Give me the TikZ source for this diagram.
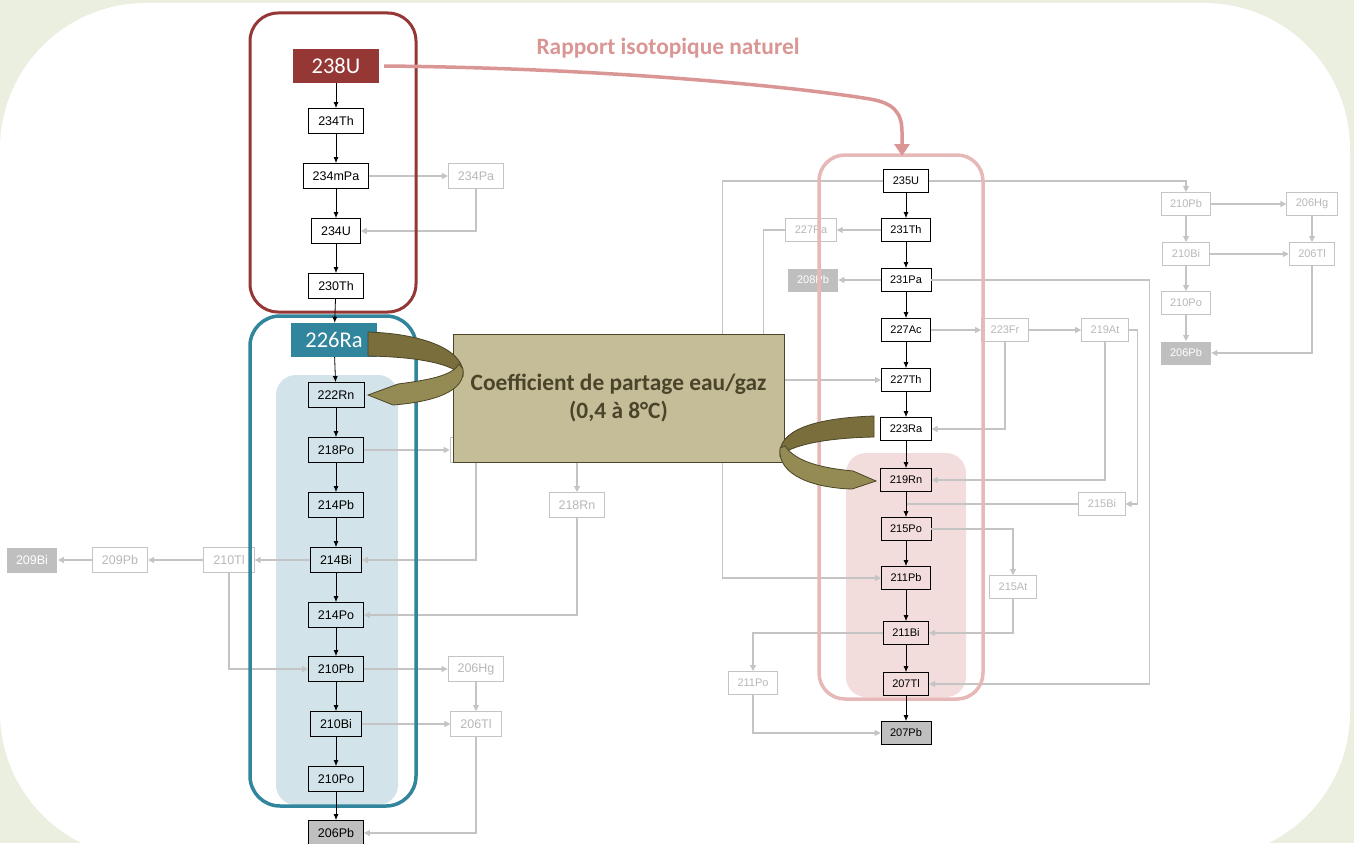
\documentclass[tikz,border=0pt]{standalone}
\usepackage{fontspec}
\setmainfont{Liberation Sans}
\newfontfamily\calfont{Carlito}
\usetikzlibrary{arrows.meta}

\definecolor{bggreen}{HTML}{EBEFDF}
\definecolor{uranred}{HTML}{953735}
\definecolor{radteal}{HTML}{31859C}
\definecolor{paleblue}{HTML}{D2E4EA}
\definecolor{pinkframe}{HTML}{E6B9B8}
\definecolor{palepink}{HTML}{F2DDDC}
\definecolor{greyline}{HTML}{C4C4C4}
\definecolor{greytext}{HTML}{B8B8B8}
\definecolor{stablegrey}{HTML}{BFBFBF}
\definecolor{coeffill}{HTML}{C4BD97}
\definecolor{coeftext}{HTML}{4A452A}
\definecolor{banddark}{HTML}{7A6E3D}
\definecolor{bandlight}{HTML}{948A54}
\definecolor{banddraw}{HTML}{4A4526}
\definecolor{rapportpink}{HTML}{D99694}

\begin{document}
\begin{tikzpicture}[x=1pt, y=-1pt, >={Latex[length=6pt,width=5pt]},
  iso/.style={draw=black, line width=.8pt, inner xsep=9.5pt, inner ysep=0pt,
    minimum height=25pt, font=\fontsize{12.5}{14}\selectfont},
  isor/.style={iso, minimum height=23pt, inner xsep=9pt, font=\fontsize{11}{13}\selectfont},
  ghost/.style={iso, draw=greyline, line width=1pt, text=greytext},
  ghostr/.style={isor, draw=greyline, line width=1pt, text=greytext},
  stable/.style={fill=stablegrey},
  lost/.style={fill=stablegrey, draw=none, text=white},
  chain/.style={->, line width=.8pt},
  gline/.style={-{Triangle[length=6pt,width=6pt]}, draw=greyline, line width=1.1pt},
  head/.style={fill=#1, text=white, minimum width=86pt, minimum height=34pt,
    font=\calfont\fontsize{22.5}{24}\selectfont},
  band/.style={fill=#1, draw=banddraw, line width=.8pt}]

  \useasboundingbox (0,0) rectangle (1354,843);
  % background
  \fill[bggreen] (0,0) rectangle (1354,843);
  \fill[white, rounded corners=146pt] (0,3) rectangle (1350,858);

  % shaded gas zones
  \fill[paleblue, rounded corners=20pt] (276,375) rectangle (398,805);
  \fill[palepink, rounded corners=20pt] (846,453) rectangle (966,697);

  % 238U chain
  \node[head=uranred] (u238) at (336,66) {238U};
  \node[head=radteal] (ra226) at (334,340) {226Ra};
  \foreach \n/\t/\y in {th234/234Th/121, pa234m/234mPa/176, u234/234U/231,
    th230/230Th/286, rn222/222Rn/395, po218/218Po/450, pb214/214Pb/505,
    bi214/214Bi/560, po214/214Po/615, pb210/210Pb/669, bi210/210Bi/724,
    po210/210Po/779}
    \node[iso] (\n) at (336,\y) {\t};
  \node[iso, stable] (pb206) at (336,833) {206Pb};

  % 235U chain
  \foreach \n/\t/\y in {u235/235U/181, th231/231Th/230, pa231/231Pa/280,
    ac227/227Ac/330, th227/227Th/380, ra223/223Ra/429, rn219/219Rn/480,
    po215/215Po/529, pb211/211Pb/578, bi211/211Bi/633, tl207/207Tl/684}
    \node[isor] (\n) at (906,\y) {\t};
  \node[isor, stable] (pb207) at (906,733) {207Pb};

  % minor branches, left
  \node[ghost] (pa234) at (476,176) {234Pa};
  \node[ghost] (at218) at (476,450) {\phantom{218At}};
  \node[ghost] (rn218) at (577,505) {218Rn};
  \node[ghost] (tl210) at (229,560) {210Tl};
  \node[ghost] (pb209) at (120,560) {209Pb};
  \node[ghost, lost] (bi209) at (32,560) {209Bi};
  \node[ghost] (hg206) at (476,669) {206Hg};
  \node[ghost] (tl206) at (476,724) {206Tl};

  % minor branches, right
  \node[ghostr] (ra227) at (811,230) {227Ra};
  \node[ghostr, lost] (pb208) at (813,280) {208Pb};
  \node[ghostr] (fr223) at (1005,330) {223Fr};
  \node[ghostr] (at219) at (1105,330) {219At};
  \node[ghostr] (bi215) at (1102,504) {215Bi};
  \node[ghostr] (at215) at (1013,587) {215At};
  \node[ghostr] (po211) at (753,683) {211Po};
  \node[ghostr] (rpb210) at (1186,204) {210Pb};
  \node[ghostr] (rhg206) at (1312,204) {206Hg};
  \node[ghostr] (rbi210) at (1186,254) {210Bi};
  \node[ghostr] (rtl206) at (1312,254) {206Tl};
  \node[ghostr] (rpo210) at (1186,303) {210Po};
  \node[ghostr, lost] (rpb206) at (1186,353) {206Pb};

  % grey links
  \draw[gline] (pa234m) -- (pa234);
  \draw[gline] (pa234) |- (u234);
  \draw[gline] (po218) -- (at218);
  \draw[gline] (at218) |- (bi214);
  \draw[gline] (at218) -| (rn218);
  \draw[gline] (rn218) |- (po214);
  \draw[gline] (bi214) -- (tl210);
  \draw[gline] (tl210) -- (pb209);
  \draw[gline] (pb209) -- (bi209);
  \draw[gline] (tl210) |- (pb210);
  \draw[gline] (pb210) -- (hg206);
  \draw[gline] (hg206) -- (tl206);
  \draw[gline] (bi210) -- (tl206);
  \draw[gline] (tl206) |- (pb206);

  \draw[gline] (u235) -| (rpb210);
  \draw[gline] (u235.west) -- ++(-161,0) |- (pb211);
  \draw[gline] (th231) -- (ra227);
  \draw[gline] (ra227.west) -- ++(-22,0) |- (th227);
  \draw[gline] (pa231) -- (pb208);
  \draw[gline] (pa231.east) -- ++(218,0) |- (tl207);
  \draw[gline] (ac227) -- (fr223);
  \draw[gline] (fr223) -- (at219);
  \draw[gline] (fr223) |- (ra223);
  \draw[gline] (at219) |- (rn219);
  \draw[gline] (at219.east) -- ++(9,0) |- (bi215);
  \draw[draw=greyline, line width=1.1pt] (bi215) -- (bi215 -| rn219);
  \draw[gline] (po215) -| (at215);
  \draw[gline] (at215) |- (bi211);
  \draw[gline] (bi211) -| (po211);
  \draw[gline] (po211) |- (pb207);
  \draw[gline] (rpb210) -- (rhg206);
  \draw[gline] (rpb210) -- (rbi210);
  \draw[gline] (rhg206) -- (rtl206);
  \draw[gline] (rbi210) -- (rtl206);
  \draw[gline] (rbi210) -- (rpo210);
  \draw[gline] (rpo210) -- (rpb206);
  \draw[gline] (rtl206) |- (rpb206);

  % frames
  \draw[uranred, line width=3pt, rounded corners=28pt] (250,13) rectangle (416,312);
  \draw[radteal, line width=3.5pt, rounded corners=30pt] (250,316) rectangle (416,806);
  \draw[pinkframe, line width=3.5pt, rounded corners=26pt] (819,155) rectangle (983,699);

  % main decays
  \foreach \a/\b in {u238/th234, th234/pa234m, pa234m/u234, u234/th230,
    th230/ra226, ra226/rn222, rn222/po218, po218/pb214, pb214/bi214,
    bi214/po214, po214/pb210, pb210/bi210, bi210/po210, po210/pb206}
    \draw[chain] (\a) -- (\b);
  \foreach \a/\b in {u235/th231, th231/pa231, pa231/ac227, ac227/th227,
    th227/ra223, ra223/rn219, rn219/po215, po215/pb211, pb211/bi211,
    bi211/tl207, tl207/pb207}
    \draw[chain] (\a) -- (\b);

  % natural isotopic ratio
  \node[text=rapportpink, font=\calfont\bfseries\fontsize{23.4}{26}\selectfont]
    (rapport) at (668,48) {Rapport isotopique naturel};
  \coordinate (pinktop) at (902,156);
  \draw[rapportpink, line width=3.5pt, -{Triangle[length=12pt,width=15pt]}]
    (u238.east) ++(5,0) .. controls (600,68) and (790,86) .. (870,99)
    .. controls (893,103) and (902,112) .. (902,132) -- (pinktop);

  % partition coefficient
  \node[fill=coeffill, draw=banddraw, line width=1pt, minimum width=331pt,
    minimum height=128pt, align=center, text=coeftext,
    font=\calfont\bfseries\fontsize{23.4}{28}\selectfont]
    (coef) at (618.5,398) {Coefficient de partage eau/gaz\\(0,4 à 8°C)};

  % curved arrows 226Ra -> 222Rn
  \filldraw[band=banddark] (368,332) .. controls (428,334) and (466,352) .. (463,376)
    .. controls (452,364) and (420,357) .. (368,356) -- cycle;
  \filldraw[band=bandlight] (463,369) .. controls (466,392) and (432,402) .. (393,405)
    -- (368,395) -- (398,384) .. controls (428,380) and (452,376) .. (459,364) -- cycle;
  % curved arrows 223Ra -> 219Rn
  \filldraw[band=banddark] (874,416) .. controls (815,418) and (777,430) .. (780,456)
    .. controls (790,446) and (822,438) .. (874,437) -- cycle;
  \filldraw[band=bandlight] (780,448) .. controls (777,476) and (815,488) .. (852,489)
    -- (876,481) -- (853,471) .. controls (822,468) and (796,462) .. (785,446) -- cycle;
\end{tikzpicture}
\end{document}
